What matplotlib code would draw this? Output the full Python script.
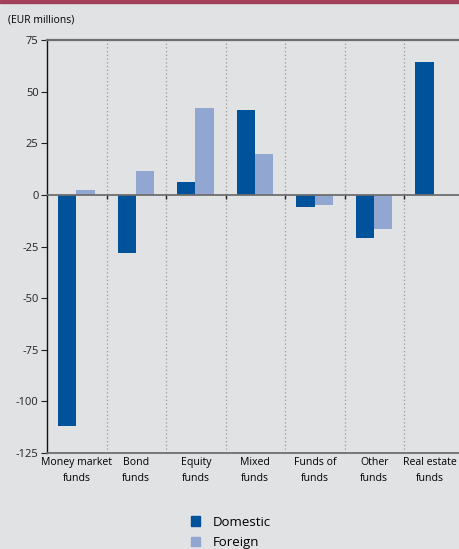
import numpy as np
import matplotlib.pyplot as plt
from matplotlib.patches import Patch, Rectangle
from matplotlib.transforms import ScaledTranslation

# data
categories = ['Money market\nfunds', 'Bond\nfunds', 'Equity\nfunds', 'Mixed\nfunds',
              'Funds of\nfunds', 'Other\nfunds', 'Real estate\nfunds']
domestic = [-112, -28, 6, 41, -6, -21, 64.5]
foreign = [2.5, 11.5, 42, 20, -5, -16.5, 0]
yticks = [-125, -100, -75, -50, -25, 0, 25, 50, 75]

BG = '#e1e2e4'
DARK = '#00529b'
LIGHT = '#91a6d1'

plt.rcParams['font.family'] = ['Open Sans', 'DejaVu Sans']

fig = plt.figure(figsize=(4.59, 5.49), dpi=100)
fig.patch.set_facecolor(BG)
# red band at the top
fig.patches.append(Rectangle((0, 0.994), 1, 0.006, transform=fig.transFigure,
                             color='#a3405a', zorder=5))

ax = fig.add_axes([0.1024, 0.1749, 0.9076, 0.7522])
ax.set_facecolor(BG)

x = np.arange(len(categories))
w = 0.31
ax.bar(x - 0.16, domestic, w, color=DARK, zorder=3)
ax.bar(x + 0.15, foreign, w, color=LIGHT, zorder=3)

ax.set_xlim(-0.5, len(categories) - 0.5)
ax.set_ylim(-125, 75)
ax.set_yticks(yticks)
ax.set_yticklabels([str(v) for v in yticks], fontsize=8)
ax.tick_params(axis='y', length=4, width=0.8, pad=2, colors='#222222')
ax.set_xticks(x)
ax.set_xticklabels(categories, fontsize=7.6, linespacing=1.55)
ax.tick_params(axis='x', length=0, pad=3)
# nudge the last label so it stays inside the figure
last = ax.get_xticklabels()[-1]
last.set_transform(last.get_transform() + ScaledTranslation(-4 / 100, 0, fig.dpi_scale_trans))

# separators between categories
for s in x[:-1] + 0.5:
    ax.axvline(s, color='#9a9a9a', linestyle=(0, (1, 2)), linewidth=0.9, zorder=1)
    ax.vlines(s, -2.2, 0, color='#222222', linewidth=1.0, zorder=4)

ax.axhline(0, color='#6e6e6e', linewidth=1.3, zorder=4)
ax.spines['right'].set_visible(False)
ax.spines['top'].set_color('#6e6e6e')
ax.spines['top'].set_linewidth(1.6)
ax.spines['bottom'].set_color('#6e6e6e')
ax.spines['bottom'].set_linewidth(1.3)
ax.spines['left'].set_color('#111111')
ax.spines['left'].set_linewidth(1.0)

fig.text(0.017, 0.963, '(EUR millions)', fontsize=7.5, va='center', ha='left')

handles = [Patch(color=DARK, label='Domestic'), Patch(color=LIGHT, label='Foreign')]
fig.legend(handles=handles, loc='upper left', bbox_to_anchor=(0.401, 0.073),
           frameon=False, fontsize=9.5, handlelength=0.7, handleheight=0.7,
           handletextpad=1.0, labelspacing=0.55, borderpad=0)

fig.savefig('out.png', dpi=100, facecolor=BG)
